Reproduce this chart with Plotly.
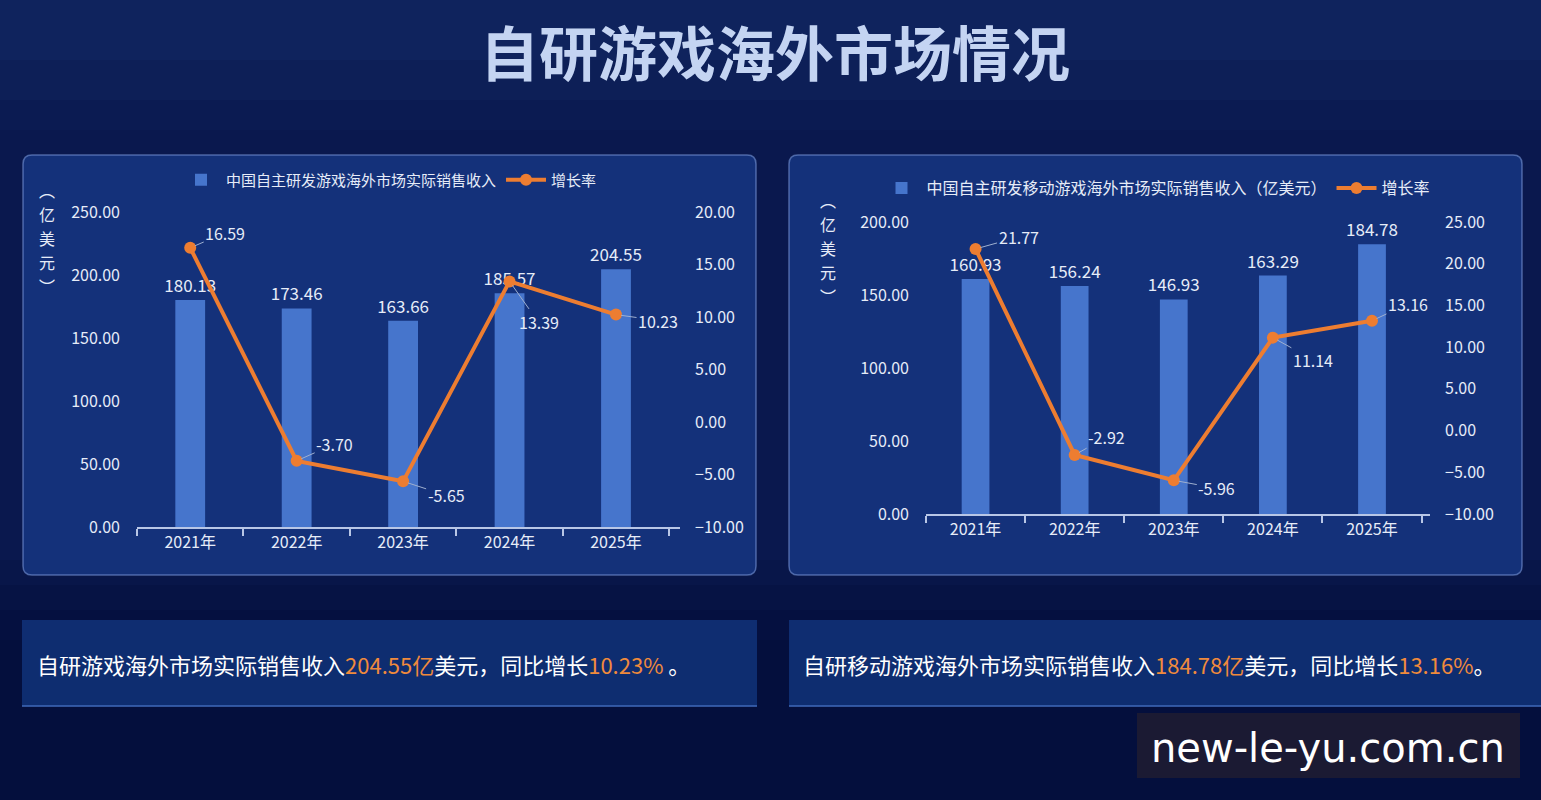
import plotly.graph_objects as go

years = ["2021年", "2022年", "2023年", "2024年", "2025年"]
rev_all = [180.13, 173.46, 163.66, 185.57, 204.55]
growth_all = [16.59, -3.70, -5.65, 13.39, 10.23]
rev_mobile = [160.93, 156.24, 146.93, 163.29, 184.78]
growth_mobile = [21.77, -2.92, -5.96, 11.14, 13.16]

name_bar1 = "中国自主研发游戏海外市场实际销售收入"
name_bar2 = "中国自主研发移动游戏海外市场实际销售收入（亿美元）"
name_line = "增长率"
unit_chars = ["︵", "亿", "美", "元", "︶"]

W, H = 1541, 800
FONT = "Noto Sans CJK SC, Noto Sans, sans-serif"
BAR = "#4675cc"
ORANGE = "#ed7d31"
TXT = "#e6ecf8"

def px(x):
    return x / W

def py(y):
    return 1 - y / H

fig = go.Figure()

bar_style = dict(marker=dict(color=BAR, line=dict(width=0)), width=0.28, textposition="outside",
                 textfont=dict(color=TXT, size=17, family=FONT), cliponaxis=False,
                 constraintext="none")
line_style = dict(mode="lines+markers", line=dict(color=ORANGE, width=4),
                  marker=dict(size=12, color=ORANGE), cliponaxis=False)

fig.add_trace(go.Bar(x=years, y=rev_all, name=name_bar1, text=[f"{v:.2f}" for v in rev_all],
                     xaxis="x", yaxis="y", legend="legend", **bar_style))
fig.add_trace(go.Scatter(x=years, y=growth_all, name=name_line, xaxis="x", yaxis="y2",
                         legend="legend", **line_style))
fig.add_trace(go.Bar(x=years, y=rev_mobile, name=name_bar2, text=[f"{v:.2f}" for v in rev_mobile],
                     xaxis="x3", yaxis="y3", legend="legend2", **bar_style))
fig.add_trace(go.Scatter(x=years, y=growth_mobile, name=name_line, xaxis="x3", yaxis="y4",
                         legend="legend2", **line_style))

axis_common = dict(showgrid=False, zeroline=False, automargin=False, showline=False,
                   tickfont=dict(color=TXT, size=16, family=FONT))

xcommon = dict(type="category", showline=True, linecolor="#b8c6e6", linewidth=2,
               ticks="outside", tickson="boundaries", ticklen=7, tickcolor="#b8c6e6",
               tickwidth=1.5, showgrid=False, automargin=False,
               tickfont=dict(color=TXT, size=16, family=FONT))

fig.update_layout(
    template="none",
    width=W, height=H, margin=dict(l=0, r=0, t=0, b=0, autoexpand=False),
    paper_bgcolor="#0a184e", plot_bgcolor="rgba(0,0,0,0)",
    font=dict(family=FONT, color=TXT),
    xaxis=dict(domain=[px(137), px(680)], anchor="y", **xcommon),
    yaxis=dict(domain=[py(527), py(212)], range=[0, 250], dtick=50, tickformat=".2f",
               anchor="x", ticklabelstandoff=16, **axis_common),
    yaxis2=dict(range=[-10, 20], dtick=5, tickformat=".2f", overlaying="y", side="right",
                anchor="x", ticklabelstandoff=14, **axis_common),
    xaxis3=dict(domain=[px(926), px(1430)], anchor="y3", **xcommon),
    yaxis3=dict(domain=[py(514), py(222)], range=[0, 200], dtick=50, tickformat=".2f",
                anchor="x3", ticklabelstandoff=16, **axis_common),
    yaxis4=dict(range=[-10, 25], dtick=5, tickformat=".2f", overlaying="y3", side="right",
                anchor="x3", ticklabelstandoff=14, **axis_common),
    legend=dict(orientation="h", x=px(389), y=py(180), xanchor="center", yanchor="middle",
                bgcolor="rgba(0,0,0,0)", font=dict(size=15, color=TXT, family=FONT),
                traceorder="normal", itemwidth=40),
    legend2=dict(orientation="h", x=px(1156), y=py(188), xanchor="center", yanchor="middle",
                 bgcolor="rgba(0,0,0,0)", font=dict(size=16, color=TXT, family=FONT),
                 traceorder="normal", itemwidth=40),
    showlegend=True,
)

shapes = []
# soft background shading (layered for a gentle gradient)
for k, (ytop, alpha) in enumerate([(560, 0.12), (585, 0.14), (610, 0.16), (640, 0.12)]):
    shapes.append(dict(type="rect", xref="paper", yref="paper", x0=0, x1=1, y0=0, y1=py(ytop),
                       fillcolor=f"rgba(3,8,45,{alpha})", line_width=0, layer="below"))
for (ybot, alpha) in [(60, 0.10), (100, 0.08), (130, 0.06)]:
    shapes.append(dict(type="rect", xref="paper", yref="paper", x0=0, x1=1, y0=py(ybot), y1=1,
                       fillcolor=f"rgba(40,80,150,{alpha})", line_width=0, layer="below"))

def rounded(x0, y0, x1, y1, r=9):
    rx, ry = r / W, r / H
    X0, X1 = px(x0), px(x1)
    Y0, Y1 = py(y1), py(y0)
    return (f"M {X0+rx},{Y1} L {X1-rx},{Y1} Q {X1},{Y1} {X1},{Y1-ry} "
            f"L {X1},{Y0+ry} Q {X1},{Y0} {X1-rx},{Y0} L {X0+rx},{Y0} "
            f"Q {X0},{Y0} {X0},{Y0+ry} L {X0},{Y1-ry} Q {X0},{Y1} {X0+rx},{Y1} Z")

for (a, b) in [(23, 756), (789, 1522)]:
    shapes.append(dict(type="path", xref="paper", yref="paper", path=rounded(a, 155, b, 575),
                       fillcolor="rgba(25,60,140,0.72)", line=dict(color="rgba(120,150,215,0.6)", width=1.5),
                       layer="below"))

for (a, b) in [(22, 757), (789, 1541)]:
    shapes.append(dict(type="rect", xref="paper", yref="paper", x0=px(a), x1=px(b), y0=py(706), y1=py(620),
                       fillcolor="rgba(18,52,125,0.8)", line_width=0, layer="below"))
    shapes.append(dict(type="line", xref="paper", yref="paper", x0=px(a), x1=px(b), y0=py(706), y1=py(706),
                       line=dict(color="rgba(60,100,180,0.8)", width=2), layer="below"))

shapes.append(dict(type="rect", xref="paper", yref="paper", x0=px(1137), x1=px(1520), y0=py(778), y1=py(713),
                   fillcolor="#1b1a33", line_width=0, layer="above"))

annotations = []
annotations.append(dict(xref="paper", yref="paper", x=px(775), y=py(50), text="<b>自研游戏海外市场情况</b>",
                        showarrow=False, font=dict(size=59, color="#c4d4f2", family=FONT),
                        xanchor="center", yanchor="middle"))

for xx, y_start in [(47, 190), (828, 200)]:
    for k, ch in enumerate(unit_chars):
        annotations.append(dict(xref="paper", yref="paper", x=px(xx), y=py(y_start + 24 * k),
                                text=ch, showarrow=False, font=dict(size=16, color=TXT, family=FONT),
                                xanchor="center", yanchor="middle"))

offs_all = [(35, -15), (38, -17), (43, 14), (29, 41), (42, 6)]
offs_mob = [(43, -12), (32, -18), (43, 8), (40, 22), (36, -17)]
for i, (v, (ax, ay)) in enumerate(zip(growth_all, offs_all)):
    annotations.append(dict(x=years[i], y=v, xref="x", yref="y2", text=f"{v:.2f}", showarrow=True,
                            arrowhead=0, arrowwidth=1, arrowcolor="#9fb0d0", ax=ax, ay=ay, standoff=5,
                            font=dict(size=16, color=TXT, family=FONT)))
for i, (v, (ax, ay)) in enumerate(zip(growth_mobile, offs_mob)):
    annotations.append(dict(x=years[i], y=v, xref="x3", yref="y4", text=f"{v:.2f}", showarrow=True,
                            arrowhead=0, arrowwidth=1, arrowcolor="#9fb0d0", ax=ax, ay=ay, standoff=5,
                            font=dict(size=16, color=TXT, family=FONT)))

OR = "#f08a3c"
annotations.append(dict(xref="paper", yref="paper", x=px(35), y=py(664), xanchor="left", yanchor="middle",
                        showarrow=False, font=dict(size=22, color="#ffffff", family=FONT),
                        text=f"自研游戏海外市场实际销售收入<span style='color:{OR}'>{rev_all[-1]:.2f}亿</span>美元，同比增长<span style='color:{OR}'>{growth_all[-1]:.2f}%</span> 。"))
annotations.append(dict(xref="paper", yref="paper", x=px(801), y=py(664), xanchor="left", yanchor="middle",
                        showarrow=False, font=dict(size=22, color="#ffffff", family=FONT),
                        text=f"自研移动游戏海外市场实际销售收入<span style='color:{OR}'>{rev_mobile[-1]:.2f}亿</span>美元，同比增长<span style='color:{OR}'>{growth_mobile[-1]:.2f}%</span>。"))
annotations.append(dict(xref="paper", yref="paper", x=px(1328), y=py(748), xanchor="center", yanchor="middle",
                        showarrow=False, font=dict(size=40, color="#ffffff", family="DejaVu Sans"),
                        text="new-le-yu.com.cn"))

fig.update_layout(shapes=shapes, annotations=annotations)
fig.write_html("out.html")
